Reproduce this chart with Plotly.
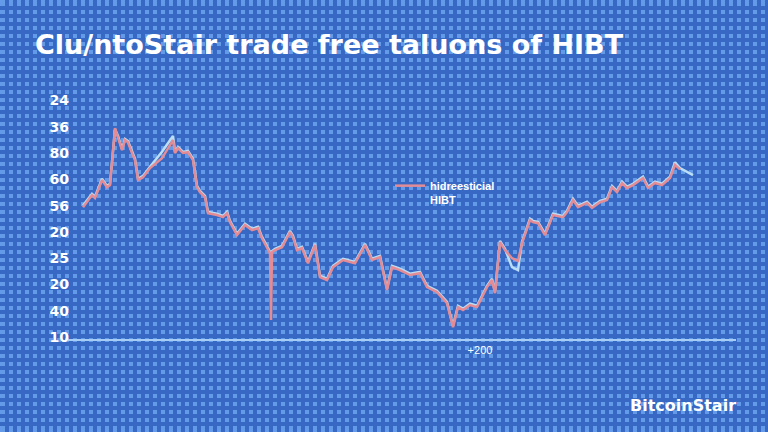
import plotly.graph_objects as go

# ---- data ----
days = [1.5, 6, 7.5, 11, 13.5, 15, 17.5, 19, 21, 22.5, 24, 26, 27.5, 29, 31.5, 35, 41,
        46.5, 47.5, 49, 51.5, 54, 56.5, 58.5, 60, 62.5, 64, 68.5, 71.5, 73.5, 75, 78.5,
        82.5, 86, 89, 91, 95, 95.5, 96, 97.5, 101, 105, 106.5, 108.5, 111, 114, 117.5,
        120, 123.5, 126.5, 131.5, 137.5, 142.5, 146, 150, 153.5, 156, 160, 165, 170,
        173.5, 178.5, 183.5, 186.5, 189, 191.5, 195, 198.5, 203.5, 206, 207.5, 210,
        212.5, 216, 219, 221, 225, 226.5, 229, 232.5, 236.5, 241.5, 243.5, 246.5, 249,
        253.5, 256, 260, 263.5, 266, 268.5, 271, 273.5, 276.5, 281.5, 284, 287.5, 291,
        295, 297.5, 300, 303.5, 306.5]

hidreesticial = [49.4, 54.0, 52.9, 59.7, 57.0, 57.8, 79.5, 76.0, 71.1, 74.9, 74.1, 70.0,
                 67.3, 59.7, 60.8, 64.3, 68.0, 74.9, 70.0, 71.9, 70.0, 70.3, 67.3, 57.0,
                 55.1, 53.2, 47.1, 46.4, 45.6, 47.1, 43.7, 38.8, 42.6, 40.7, 41.4, 37.6,
                 31.9, 6.5, 32.3, 33.1, 34.2, 39.9, 38.0, 33.1, 33.8, 28.1, 35.0, 22.8,
                 21.7, 26.6, 29.3, 28.1, 35.0, 29.3, 30.4, 17.9, 26.6, 25.5, 23.6, 24.3,
                 19.0, 17.1, 12.9, 3.8, 11.4, 10.3, 12.2, 11.4, 19.0, 21.7, 16.7, 36.1,
                 33.1, 30.0, 29.0, 35.7, 44.5, 43.7, 43.3, 38.8, 46.4, 45.6, 47.5, 52.1,
                 49.4, 51.0, 49.1, 51.3, 52.1, 57.0, 55.1, 58.6, 56.7, 57.8, 60.5, 56.7,
                 58.6, 57.8, 60.5, 65.5, 63.8, None, None]

hibt = [50.0, 54.5, 53.4, 60.2, 57.5, 58.3, 79.0, 76.5, 71.6, 75.3, 74.5, 70.4,
        67.8, 60.2, 61.3, 64.8, 70.5, 76.5, 70.5, 72.3, 70.4, 70.8, 67.8, 57.5,
        55.6, 53.7, 47.6, 46.9, 46.1, 47.6, 44.2, 39.3, 43.1, 41.2, 41.9, 38.1,
        32.4, 32.4, 32.8, 33.6, 34.7, 40.4, 38.5, 33.6, 34.3, 28.6, 35.5, 23.3,
        22.2, 27.1, 29.8, 28.6, 35.5, 29.8, 30.9, 18.4, 27.1, 26.0, 24.1, 24.8,
        19.5, 17.6, 13.4, 4.3, 11.9, 10.8, 12.7, 11.9, 19.5, 22.2, 17.2, 36.6,
        33.6, 26.6, 25.5, 36.2, 45.0, 44.2, 43.8, 39.3, 46.9, 46.1, 48.0, 52.6,
        49.9, 51.5, 49.6, 51.8, 52.6, 57.5, 55.6, 59.1, 57.2, 58.3, 61.0, 57.2,
        59.1, 58.3, 61.0, 66.5, 64.3, 62.7, 61.6]

y_tickvals = [0, 10, 20, 30, 40, 50, 60, 70, 80, 90]
y_ticktext = ["10", "40", "20", "25", "20", "56", "60", "80", "36", "24"]
x_tickvals = [200]
x_ticktext = ["+200"]

title_text = "Clu/ntoStair trade free taluons of HIBT"
legend_name = "hidreesticial<br>HIBT"
watermark = "BitcoinStair"

RED = "rgb(228,140,150)"
LIGHT = "rgb(185,222,246)"
GRID = "rgb(55,105,196)"

fig = go.Figure()
# empty trace so the full-page grid subplot is drawn
fig.add_trace(go.Scatter(x=[], y=[], xaxis="x", yaxis="y", showlegend=False,
                         hoverinfo="skip"))
fig.add_trace(go.Scatter(x=days, y=hibt, mode="lines", xaxis="x2", yaxis="y2",
                         line=dict(color=LIGHT, width=2.5), showlegend=False,
                         name="HIBT"))
fig.add_trace(go.Scatter(x=days, y=hidreesticial, mode="lines", xaxis="x2", yaxis="y2",
                         line=dict(color=RED, width=2.5), name=legend_name,
                         connectgaps=False))

fig.update_layout(
    width=768, height=432, autosize=False,
    margin=dict(l=0, r=0, t=0, b=0, autoexpand=False),
    paper_bgcolor="rgb(100,155,232)",
    plot_bgcolor="rgba(0,0,0,0)",
    # full-page checker grid
    xaxis=dict(domain=[0, 1], range=[-0.85, 95.15], dtick=1, showgrid=True,
               gridcolor=GRID, gridwidth=3.5, showticklabels=False, automargin=False,
               zeroline=False, showline=False, fixedrange=True, ticks=""),
    yaxis=dict(domain=[0, 1], range=[-0.0625, 53.9375], dtick=1, showgrid=True,
               gridcolor=GRID, gridwidth=3.5, showticklabels=False, automargin=False,
               zeroline=False, showline=False, fixedrange=True, ticks=""),
    # data axes
    xaxis2=dict(domain=[68 / 768, 736 / 768], range=[-6, 328], anchor="free",
                position=92 / 432,
                showgrid=False, zeroline=False, showline=True, automargin=False,
                linecolor="rgb(165,205,245)", linewidth=1.5,
                tickmode="array", tickvals=x_tickvals, ticktext=x_ticktext,
                tickfont=dict(family="Liberation Sans", size=11, color="white"),
                ticks=""),
    yaxis2=dict(domain=[65 / 432, 0.798], range=[-11.37, 95], anchor="free",
                position=69 / 768, showgrid=False, zeroline=False, showline=False,
                automargin=False,
                tickmode="array", tickvals=y_tickvals, ticktext=y_ticktext,
                tickfont=dict(family="DejaVu Sans", size=14, color="white",
                              weight="bold"),
                ticks=""),
    title=dict(text=title_text, x=35 / 768, xanchor="left", y=(432 - 45) / 432,
               yanchor="middle", automargin=False,
               font=dict(family="DejaVu Sans", size=27, color="white", weight="bold")),
    legend=dict(x=390 / 768, y=(432 - 172) / 432, xanchor="left", yanchor="top",
                bgcolor="rgba(0,0,0,0)", valign="top", itemwidth=30,
                font=dict(family="Liberation Sans", size=11, color="white",
                          weight="bold")),
    annotations=[dict(text=watermark, x=738 / 768, y=(432 - 405) / 432,
                      xref="paper", yref="paper", xanchor="right", yanchor="middle",
                      showarrow=False,
                      font=dict(family="DejaVu Sans", size=16, color="white",
                                weight="bold"))],
)

post = ("document.body.style.margin='0';"
        "document.body.style.overflow='hidden';"
        "Plotly.relayout(document.getElementById('{plot_id}'), {width:768, height:432});")
fig.write_html("out.html", config={"displayModeBar": False}, post_script=post)
